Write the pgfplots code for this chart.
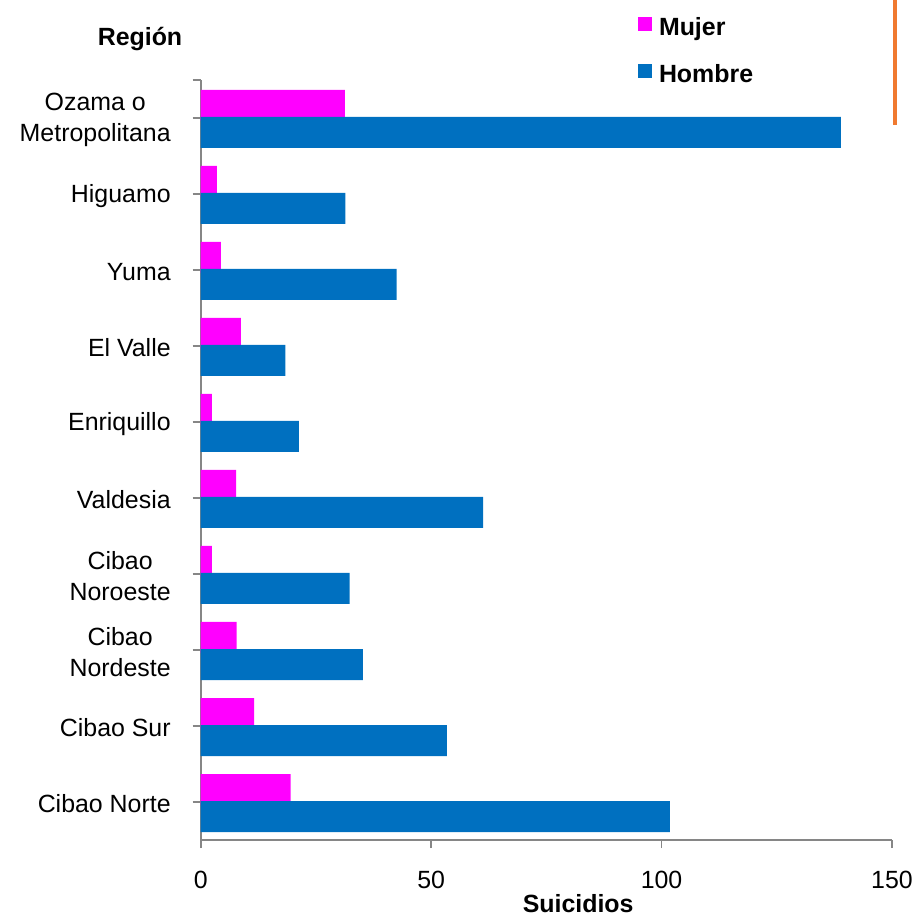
\documentclass[border=0pt]{standalone}
\usepackage{fontspec}
\setmainfont{Liberation Sans}
\usepackage{pgfplots}
\pgfplotsset{compat=1.18}
\definecolor{mujer}{HTML}{FF00FF}
\definecolor{hombre}{HTML}{0070C0}
\definecolor{axgray}{HTML}{868686}
\definecolor{orangeline}{HTML}{F07A30}
\begin{document}
\begin{tikzpicture}
\path[use as bounding box] (-100.35bp,-37.5bp) rectangle (356.65bp,420bp);
\begin{axis}[
  at={(0,0)}, anchor=south west,
  scale only axis, width=345.65bp, height=380bp,
  xbar, bar width=15.5bp,
  xmin=0, xmax=150, ymin=-0.5, ymax=9.5,
  xtick={0,50,100,150},
  ytick={0,...,9},
  yticklabels={Cibao Norte, Cibao Sur, {Cibao\\Nordeste}, {Cibao\\Noroeste}, Valdesia, Enriquillo, El Valle, Yuma, Higuamo, {Ozama o\\Metropolitana}},
  extra y ticks={9.5}, extra y tick labels={},
  axis x line*=bottom, axis y line*=left,
  axis line style={axgray, line width=0.9bp},
  tick style={axgray, line width=0.9bp},
  major tick length=4bp,
  tick align=outside,
  font=\fontsize{12.5}{15.5}\selectfont,
  /pgf/number format/assume math mode=true,
  yticklabel style={align=center, xshift=-7.5bp, yshift=-1bp},
  xticklabel style={yshift=-8bp},
  clip=false,
  xlabel={Suicidios},
  xlabel style={at={(axis description cs:0.546,0)}, anchor=base, yshift=-36bp, font=\bfseries\fontsize{12.5}{15.5}\selectfont},
  ylabel={Región},
  ylabel style={at={(axis description cs:-0.0878,1.046)}, rotate=-90, anchor=base, font=\bfseries\fontsize{12.5}{15.5}\selectfont},
  legend style={at={(axis description cs:0.6326,1.0842)}, anchor=north west, draw=none, fill=none, inner sep=0pt, outer sep=0pt,
    font=\bfseries\fontsize{12.5}{15.5}\selectfont, row sep=11bp, column sep=3.5bp,
    nodes={inner sep=0pt, text height=9.5bp, text depth=3bp}},
  legend cell align=left,
  legend image code/.code={\fill[#1, draw=none] (0bp,-1bp) rectangle (7bp,6bp);},
]
\addplot[fill=mujer, draw=none, bar shift=6.25bp] coordinates {
  (19.5,0) (11.6,1) (7.8,2) (2.4,3) (7.7,4) (2.4,5) (8.7,6) (4.4,7) (3.5,8) (31.3,9)};
\addlegendentry{Mujer}
\addplot[fill=hombre, draw=none, bar shift=-7.25bp] coordinates {
  (101.8,0) (53.4,1) (35.2,2) (32.3,3) (61.3,4) (21.3,5) (18.4,6) (42.5,7) (31.4,8) (138.9,9)};
\addlegendentry{Hombre}
\draw[orangeline, line width=2bp] (axis description cs:1.0043,1.105) -- (axis description cs:1.0043,0.9408);
\end{axis}
\end{tikzpicture}
\end{document}
